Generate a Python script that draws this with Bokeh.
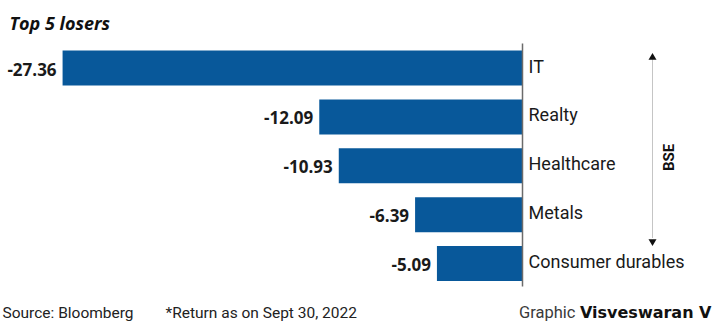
import math
from bokeh.plotting import figure
from bokeh.models import Range1d, ColumnDataSource, Label
from bokeh.core.properties import value
from bokeh.embed import file_html
from bokeh.resources import INLINE

# ---- data ----
categories = ["IT", "Realty", "Healthcare", "Metals", "Consumer durables"]
returns = [-27.36, -12.09, -10.93, -6.39, -5.09]
value_labels = ["-27.36", "-12.09", "-10.93", "-6.39", "-5.09"]
title_text = "Top 5 losers"
index_name = "BSE"
source_text = "Source: Bloomberg"
note_text = "*Return as on Sept 30, 2022"
credit_plain = "Graphic"
credit_bold = "Visveswaran V"

W, H = 713, 322
# pixel geometry
ZERO_PX = 522.0
PX_PER_UNIT = 16.81
ROW0_PX = 67.6
ROW_STEP = 48.85

x_start = -ZERO_PX / PX_PER_UNIT
x_end = (W - ZERO_PX) / PX_PER_UNIT
y_top = -ROW0_PX / ROW_STEP
y_bottom = (H - ROW0_PX) / ROW_STEP


def px_x(px):
    return (px - ZERO_PX) / PX_PER_UNIT


def px_y(py):
    return (py - ROW0_PX) / ROW_STEP


p = figure(width=W, height=H, output_backend="svg", toolbar_location=None,
           x_range=Range1d(x_start, x_end), y_range=Range1d(y_bottom, y_top),
           min_border=0, min_border_left=0, min_border_right=0,
           min_border_top=0, min_border_bottom=0)
p.axis.visible = False
p.grid.visible = False
p.outline_line_color = None
p.background_fill_color = "white"
p.border_fill_color = "white"

src = ColumnDataSource(dict(
    y=list(range(len(categories))),
    v=returns,
    zero=[0] * len(categories),
    cat=categories,
    lab=value_labels,
))

p.hbar(y="y", left="v", right="zero", height=0.716, source=src,
       fill_color="#08589a", line_color=None)

# zero line
p.segment(x0=[0], y0=[px_y(43)], x1=[0], y1=[px_y(286)],
          line_color="#6b6b6b", line_width=1.5)

# value labels
p.text(x="v", y="y", text="lab", source=src, text_align="right",
       text_baseline="middle", x_offset=-6, y_offset=1,
       text_font=value("Open Sans"), text_font_style="bold",
       text_font_size="17px", text_color="#1a1a1a")

# category labels
p.text(x="zero", y="y", text="cat", source=src, text_align="left",
       text_baseline="middle", x_offset=6, y_offset=-2,
       text_font=value("Roboto"), text_font_size="18px",
       text_color="#1a1a1a")

# BSE bracket
p.segment(x0=[px_x(652)], y0=[px_y(58)], x1=[px_x(652)], y1=[px_y(238)],
          line_color="#8a8a8a", line_width=1, line_dash="1 1")
p.scatter(x=[px_x(652)], y=[px_y(57)], marker="triangle", size=8,
          fill_color="#111111", line_color=None)
p.scatter(x=[px_x(652)], y=[px_y(241)], marker="inverted_triangle", size=8,
          fill_color="#111111", line_color=None)
p.add_layout(Label(x=px_x(668), y=px_y(157), text=index_name,
                   angle=math.pi / 2, text_align="center",
                   text_baseline="middle", text_font="Roboto",
                   text_font_style="bold", text_font_size="15px",
                   text_color="#111111"))

# title
p.add_layout(Label(x=px_x(9), y=px_y(22), text=title_text,
                   text_align="left", text_baseline="middle",
                   text_font="Open Sans", text_font_style="bold italic",
                   text_font_size="18px", text_color="#111111"))

# footer
FOOT_Y = 312
p.add_layout(Label(x=px_x(2), y=px_y(FOOT_Y), text=source_text,
                   text_align="left", text_baseline="middle",
                   text_font="Roboto", text_font_size="15.5px",
                   text_color="#222222"))
p.add_layout(Label(x=px_x(165), y=px_y(FOOT_Y), text=note_text,
                   text_align="left", text_baseline="middle",
                   text_font="Roboto", text_font_size="15.5px",
                   text_color="#222222"))
p.add_layout(Label(x=px_x(711), y=px_y(FOOT_Y), text=credit_bold,
                   text_align="right", text_baseline="middle",
                   text_font="DejaVu Sans", text_font_style="bold",
                   text_font_size="16px", text_color="#111111"))
p.add_layout(Label(x=px_x(575), y=px_y(FOOT_Y), text=credit_plain,
                   text_align="right", text_baseline="middle",
                   text_font="Roboto", text_font_size="16.5px",
                   text_color="#3a3a3a"))

open("out.html", "w").write(file_html(p, INLINE))
